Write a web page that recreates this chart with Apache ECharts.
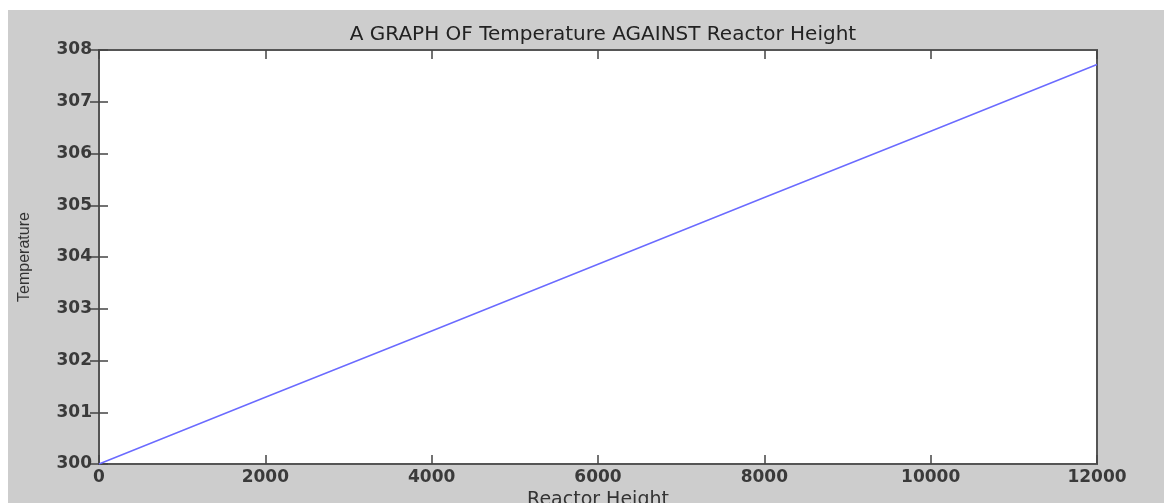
<!DOCTYPE html>
<html><head><meta charset="utf-8">
<script src="https://cdn.jsdelivr.net/npm/echarts@6/dist/echarts.min.js"></script>
<style>html,body{margin:0;padding:0;background:#fff}#c{width:1164px;height:503px}</style>
</head><body><div id="c"></div>
<script>
const titleText = 'A GRAPH OF Temperature AGAINST Reactor Height';
const xName = 'Reactor Height';
const yName = 'Temperature';
const heights = [0, 2000, 4000, 6000, 8000, 10000, 12000];
const temperatures = [300, 301.29, 302.57, 303.86, 305.15, 306.43, 307.72];
const xTicks = [0, 2000, 4000, 6000, 8000, 10000, 12000];
const yTicks = [300, 301, 302, 303, 304, 305, 306, 307, 308];

const chart = echarts.init(document.getElementById('c'));
const font = '"DejaVu Sans", Arial, sans-serif';
const tickStyle = {show: true, inside: true, length: 9, lineStyle: {color: '#444', width: 1.5}};
chart.setOption({
  backgroundColor: '#ffffff',
  animation: false,
  graphic: [{type: 'rect', z: -10, silent: true, shape: {x: 8, y: 10, width: 1156, height: 493}, style: {fill: '#cdcdcd'}}],
  title: {text: titleText, left: 598, textAlign: 'center', top: 20, textStyle: {fontFamily: font, fontSize: 20, fontWeight: 'normal', color: '#222'}},
  grid: {show: true, left: 99, right: 67, top: 50, bottom: 39, containLabel: false, outerBoundsMode: 'none',
         backgroundColor: '#fff', borderColor: '#555', borderWidth: 2},
  xAxis: [{
    type: 'value', min: xTicks[0], max: xTicks[xTicks.length-1], interval: 2000,
    name: xName, nameLocation: 'middle', nameGap: 25,
    nameTextStyle: {fontFamily: font, fontSize: 19, color: '#333'},
    axisLine: {show: true, lineStyle: {color: '#555', width: 2}},
    axisTick: tickStyle, splitLine: {show: false},
    axisLabel: {fontFamily: font, fontSize: 17, fontWeight: 'bold', color: '#3a3a3a', margin: 5, formatter: v => String(v)}
  }, {
    type: 'value', position: 'top', min: xTicks[0], max: xTicks[xTicks.length-1], interval: 2000,
    axisLine: {show: true, lineStyle: {color: '#555', width: 2}},
    axisTick: tickStyle, axisLabel: {show: false}, splitLine: {show: false}
  }],
  yAxis: [{
    type: 'value', min: yTicks[0], max: yTicks[yTicks.length-1], interval: 1,
    name: yName, nameLocation: 'middle', nameGap: 66, nameRotate: 90,
    nameTextStyle: {fontFamily: '"Liberation Sans Narrow", "Liberation Sans", Arial, sans-serif', fontSize: 16, color: '#333'},
    axisLine: {show: true, lineStyle: {color: '#555', width: 2}},
    axisTick: tickStyle, splitLine: {show: false},
    axisLabel: {fontFamily: font, fontSize: 17, fontWeight: 'bold', color: '#3a3a3a', margin: 7, formatter: v => String(v)}
  }, {
    type: 'value', position: 'right', min: yTicks[0], max: yTicks[yTicks.length-1], interval: 1,
    axisLine: {show: true, lineStyle: {color: '#555', width: 2}},
    axisTick: tickStyle, axisLabel: {show: false}, splitLine: {show: false}
  }],
  series: [{
    type: 'line', xAxisIndex: 0, yAxisIndex: 0,
    data: heights.map((h, i) => [h, temperatures[i]]),
    showSymbol: false, lineStyle: {color: '#6b6bff', width: 1.5}
  }]
});
</script></body></html>
